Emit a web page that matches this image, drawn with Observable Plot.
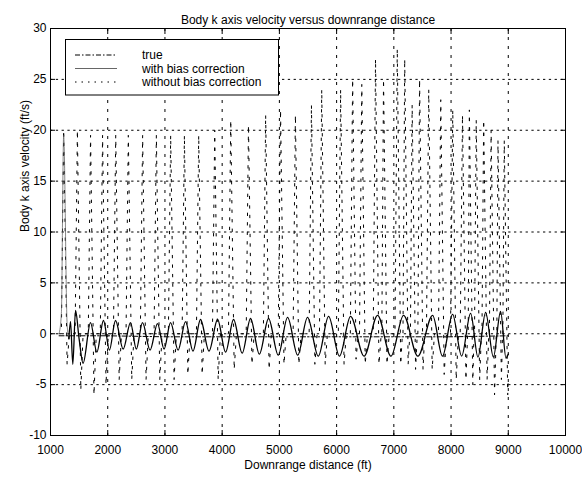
<!DOCTYPE html>
<html><head><meta charset="utf-8">
<script src="https://cdn.jsdelivr.net/npm/d3@7"></script>
<script src="https://cdn.jsdelivr.net/npm/@observablehq/plot@0.6"></script>
<style>
html,body{margin:0;padding:0;background:#fff;}
#chart{width:582px;height:478px;}
</style></head><body><div id="chart"></div>
<script>
const titleText = "Body k axis velocity versus downrange distance";
const xLabel = "Downrange distance (ft)";
const yLabel = "Body k axis velocity (ft/s)";
const legendLabels = ["true", "with bias correction", "without bias correction"];
const xTicks = [1000, 2000, 3000, 4000, 5000, 6000, 7000, 8000, 9000, 10000];
const yTicks = [-10, -5, 0, 5, 10, 15, 20, 25, 30];

// "true" (dash-dot)
const trueX = [1150, 2000, 3000, 4000, 5000, 6000, 7000, 8000, 9000];
const trueY = [-0.2, -0.2, -0.3, -0.3, -0.3, -0.3, -0.3, -0.3, -0.2];

// "with bias correction" (solid): initial transient, then extrema of the oscillation
const withStartX = [1150, 1190, 1230, 1290, 1320];
const withStartY = [0, 2, 19.5, 1, -0.5];
const withX = [1320, 1350, 1390, 1437, 1500, 1570, 1699, 1810, 1926, 2030, 2136, 2270, 2398, 2500,
  2608, 2740, 2870, 2985, 3098, 3230, 3360, 3490, 3622, 3770, 3920, 4060, 4199, 4350, 4496, 4650, 4811, 4980, 5143,
  5320, 5492, 5680, 5860, 6050, 6244, 6480, 6716, 6950, 7170, 7420, 7678, 7850, 8027, 8185, 8342, 8470, 8604, 8740,
  8866, 8960, 9000];
const withY = [-0.5, 1.2, -3, 2.3, -0.5, -2.9, 1.1, -1.8, 1.3, -1.6, 1.3, -1.5, 1.1, -1.5,
  1.1, -1.6, 1.0, -1.5, 1.1, -1.6, 1.2, -1.7, 1.4, -1.7, 1.4, -1.8, 1.4, -1.9, 1.5, -2.0, 1.5, -2.1, 1.6,
  -2.1, 1.6, -2.2, 1.7, -2.2, 1.7, -2.2, 1.8, -2.2, 1.8, -2.2, 1.8, -2.2, 1.9, -2.2, 2.0, -2.3, 2.1, -2.3,
  2.2, -2.4, -2.0];

// "without bias correction" (dotted): sharp excursions up and down
const withoutX = [1150,
  1190, 1230, 1290, 1330,
  1430, 1470, 1530, 1570,
  1660, 1700, 1760, 1800,
  1870, 1910, 1970, 2010,
  2100, 2140, 2200, 2240,
  2320, 2360, 2420, 2460,
  2570, 2610, 2670, 2710,
  2810, 2850, 2910, 2950,
  3060, 3100, 3160, 3200,
  3300, 3340, 3400, 3440,
  3550, 3590, 3650, 3690,
  3830, 3870, 3930, 3970,
  4110, 4150, 4210, 4250,
  4420, 4460, 4520, 4560,
  4720, 4760, 4820, 4860,
  4980, 5020, 5080, 5120,
  5240, 5280, 5340, 5380,
  5520, 5560, 5620, 5660,
  5700, 5740, 5800, 5840,
  6030, 6070, 6130, 6170,
  6240, 6280, 6340, 6380,
  6400, 6440, 6500, 6540,
  6640, 6680, 6740, 6780,
  6790, 6820, 6880, 6920,
  7020, 7060, 7120, 7150,
  7160, 7190, 7250, 7280,
  7290, 7320, 7380, 7410,
  7420, 7450, 7510, 7540,
  7570, 7610, 7670, 7710,
  7780, 7820, 7880, 7920,
  7990, 8030, 8090, 8130,
  8160, 8200, 8260, 8290,
  8300, 8320, 8380, 8400,
  8410, 8440, 8500, 8530,
  8540, 8570, 8630, 8660,
  8670, 8700, 8760, 8790,
  8800, 8820, 8880, 8900,
  8905, 8930, 8990, 9000];
const withoutY = [0,
  0, 20, -3, 0,
  0, 20, -5.5, 0,
  0, 19.5, -6, 0,
  0, 19.5, -5, 0,
  0, 19.5, -4.5, 0,
  0, 19.5, -4.5, 0,
  0, 19.5, -4.5, 0,
  0, 19.5, -4.5, 0,
  0, 19.5, -4.5, 0,
  0, 19.5, -4, 0,
  0, 19.5, -4, 0,
  0, 20, -4.5, 0,
  0, 21, -3.5, 0,
  0, 20.5, -3, 0,
  0, 21.5, -3.5, 0,
  0, 22, -3, 0,
  0, 21.5, -3, 0,
  0, 22.5, -3, 0,
  0, 24, -3, 0,
  0, 24, -3, 0,
  0, 25, -2.5, 0,
  0, 24.5, -3, 0,
  0, 27, -3, 0,
  0, 25, -3, 0,
  0, 28, -3, 0,
  0, 27, -3, 0,
  0, 22.5, -3.5, 0,
  0, 25, -3.5, 0,
  0, 24, -3.5, 0,
  0, 23, -4, 0,
  0, 22, -4.5, 0,
  0, 21.5, -4.5, 0,
  0, 22, -5, 0,
  0, 21, -4.5, 0,
  0, 21, -4.5, 0,
  0, 20, -6, 0,
  0, 19, -4.5, 0,
  0, 19, -6, -4.5];

const trueData = trueX.map((x, i) => ({x, y: trueY[i]}));
const withStartData = withStartX.map((x, i) => ({x, y: withStartY[i]}));
const withData = withX.map((x, i) => ({x, y: withY[i]}));
const withoutData = withoutX.map((x, i) => ({x, y: withoutY[i]}));

const FONT = "'Liberation Sans', Arial, Helvetica, sans-serif";
const fmt = d => String(d);

const plot = Plot.plot({
  width: 582, height: 478,
  marginLeft: 50, marginRight: 17, marginTop: 28, marginBottom: 43,
  style: {fontFamily: FONT, fontSize: "12px", background: "white", color: "black", overflow: "visible"},
  x: {domain: [1000, 10000]},
  y: {domain: [-10, 30]},
  marks: [
    Plot.gridX(xTicks, {stroke: "black", strokeOpacity: 1, strokeWidth: 1, strokeDasharray: "3,6"}),
    Plot.gridY(yTicks, {stroke: "black", strokeOpacity: 1, strokeWidth: 1, strokeDasharray: "2.3,3.5"}),
    Plot.line(withoutData, {x: "x", y: "y", stroke: "black", strokeWidth: 1, strokeDasharray: "2.5,7"}),
    Plot.line(withStartData, {x: "x", y: "y", stroke: "#555", strokeWidth: 0.7, curve: "monotone-x"}),
    Plot.line(withData, {x: "x", y: "y", stroke: "black", strokeWidth: 1.3, curve: "monotone-x"}),
    Plot.line(trueData, {x: "x", y: "y", stroke: "black", strokeWidth: 1, strokeDasharray: "5,2,1.5,2"}),
    Plot.axisX(xTicks, {anchor: "bottom", tickSize: 0, tickPadding: 10, tickFormat: fmt, label: null, fontSize: 12}),
    Plot.axisX(xTicks, {anchor: "bottom", tickSize: -5, tickFormat: () => "", label: null}),
    Plot.axisX(xTicks, {anchor: "top", tickSize: -5, tickFormat: () => "", label: null}),
    Plot.axisY(yTicks, {anchor: "left", tickSize: 0, tickPadding: 4, tickFormat: fmt, label: null, fontSize: 12}),
    Plot.axisY(yTicks, {anchor: "left", tickSize: -5, tickFormat: () => "", label: null}),
    Plot.axisY(yTicks, {anchor: "right", tickSize: -5, tickFormat: () => "", label: null}),
    Plot.frame({stroke: "black", strokeWidth: 1}),
    Plot.text([titleText], {text: d => d, frameAnchor: "top", dy: -13, fontSize: 12, fill: "black"}),
    Plot.text([xLabel], {text: d => d, frameAnchor: "bottom", dy: 33, fontSize: 12, fill: "black"}),
    Plot.text([yLabel], {text: d => d, frameAnchor: "left", dx: -25, rotate: -90, fontSize: 12, fill: "black"})
  ]
});

// Legend box (MATLAB-style, inside the axes)
const svg = d3.select(plot);
const lg = svg.append("g").attr("font-family", FONT).attr("font-size", 12).attr("text-anchor", "start");
lg.append("rect").attr("x", 65.5).attr("y", 39.5).attr("width", 213).attr("height", 55.5)
  .attr("fill", "white").attr("stroke", "black").attr("stroke-width", 1);
const dashes = ["5,2,1.5,2", null, "1.5,5"];
const sampleStroke = ["black", "#666", "black"];
const sampleY = [55, 68.5, 82];
legendLabels.forEach((lab, i) => {
  const ln = lg.append("line").attr("x1", 75).attr("x2", 117).attr("y1", sampleY[i]).attr("y2", sampleY[i])
    .attr("stroke", sampleStroke[i]).attr("stroke-width", 1);
  if (dashes[i]) ln.attr("stroke-dasharray", dashes[i]);
  lg.append("text").attr("x", 142).attr("y", sampleY[i]).attr("dy", "0.35em")
    .attr("text-anchor", "start").attr("fill", "black").text(lab);
});

document.getElementById("chart").appendChild(plot);
</script></body></html>
